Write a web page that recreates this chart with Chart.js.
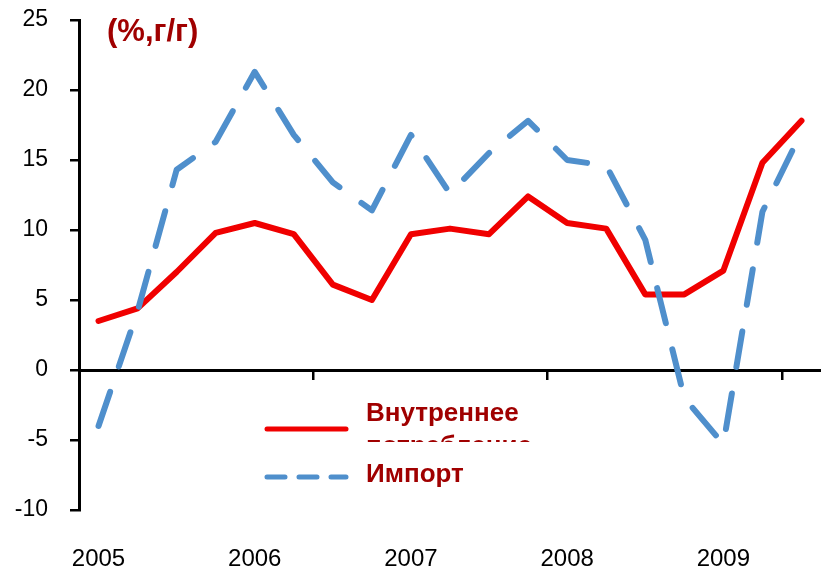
<!DOCTYPE html>
<html>
<head>
<meta charset="utf-8">
<script src="https://cdn.jsdelivr.net/npm/chart.js@4.4.1/dist/chart.umd.min.js"></script>
<style>
  html, body { margin: 0; padding: 0; background: #fff; overflow: hidden; }
  #wrap { position: relative; width: 821px; height: 571px; }
  #chart { position: absolute; left: 0; top: 0; }
  .unit {
    position: absolute; left: 107px; top: 13px;
    font: bold 31px "Liberation Sans", Arial, sans-serif; color: #a00000;
  }
  .lg-line { position: absolute; left: 262px; line-height: 0; }
  .lg-line svg { display: block; }
  .lg-text {
    position: absolute; left: 366px; width: 200px; overflow: hidden;
    font: bold 26px "Liberation Sans", Arial, sans-serif; color: #a00000;
  }
</style>
</head>
<body>
<div id="wrap">
  <canvas id="chart" width="821" height="571"></canvas>
  <div class="unit">(%,г/г)</div>
  <div id="legend"></div>
</div>
<script>
const quarters = [
  "2005 Q1", "2005 Q2", "2005 Q3", "2005 Q4",
  "2006 Q1", "2006 Q2", "2006 Q3", "2006 Q4",
  "2007 Q1", "2007 Q2", "2007 Q3", "2007 Q4",
  "2008 Q1", "2008 Q2", "2008 Q3", "2008 Q4",
  "2009 Q1", "2009 Q2", "2009 Q3"
];
const yearTicks = ["2005", "2006", "2007", "2008", "2009"];
const seriesNames = ["Внутреннее потребление", "Импорт"];
const consumption = [3.5, 4.4, 7.0, 9.8, 10.5, 9.7, 6.1, 5.0, 9.7, 10.1, 9.7, 12.4, 10.5, 10.1, 5.4, 5.4, 7.1, 14.8, 17.8];
const imports = [-4.0, 4.2, 14.3, 16.3, 21.3, 16.8, 13.4, 11.4, 16.8, 12.6, 15.5, 17.8, 15.0, 14.6, 9.3, -2.0, -5.3, 11.3, 17.0];

const RED = "#f00000";
const BLUE = "#4f8fcc";
const FONT = "'Liberation Sans', Arial, sans-serif";

const noSidePadding = (scale) => {
  scale.paddingLeft = 0;
  scale.paddingRight = 0;
};

const chart = new Chart(document.getElementById("chart"), {
  type: "line",
  data: {
    labels: quarters,
    datasets: [
      {
        label: seriesNames[0],
        data: consumption,
        borderColor: RED,
        borderWidth: 6,
        borderJoinStyle: "round",
        borderCapStyle: "round",
        pointRadius: 0,
        tension: 0,
        order: 2,
      },
      {
        label: seriesNames[1],
        data: imports,
        borderColor: BLUE,
        borderWidth: 6,
        borderDash: [36, 27],
        borderJoinStyle: "round",
        borderCapStyle: "round",
        pointRadius: 0,
        tension: 0,
        order: 1,
      },
    ],
  },
  options: {
    responsive: false,
    animation: false,
    devicePixelRatio: 1,
    layout: { padding: { top: 20, left: 0, right: 0, bottom: 0 } },
    plugins: {
      legend: { display: false },
      tooltip: { enabled: false },
    },
    scales: {
      x: {
        type: "category",
        position: { y: 0 },
        offset: true,
        grid: {
          offset: true,
          drawOnChartArea: false,
          drawTicks: true,
          tickLength: 8,
          lineWidth: 2.5,
          color: (ctx) => (ctx.index % 6 === 0 ? "#000" : "rgba(0,0,0,0)"),
        },
        border: { display: true, color: "#000", width: 3 },
        ticks: { display: false, autoSkip: false },
        afterFit: noSidePadding,
      },
      x2: {
        type: "category",
        position: "bottom",
        offset: true,
        grid: { display: false },
        border: { display: false },
        ticks: {
          autoSkip: false,
          maxRotation: 0,
          padding: 27,
          color: "#000",
          font: { family: FONT, size: 24 },
          callback: (value, index) => (index % 4 === 0 ? yearTicks[index / 4] : ""),
        },
        afterFit: (scale) => {
          scale.height = 61;
          noSidePadding(scale);
        },
      },
      y: {
        min: -10,
        max: 25,
        grid: {
          drawOnChartArea: false,
          drawTicks: true,
          tickLength: 9,
          lineWidth: 2.5,
          color: "#000",
        },
        border: { display: true, color: "#000", width: 3 },
        ticks: {
          stepSize: 5,
          padding: 22,
          color: "#000",
          font: { family: FONT, size: 23 },
        },
        afterFit: (scale) => {
          scale.width = 79;
          scale.paddingTop = 0;
          scale.paddingBottom = 0;
        },
      },
    },
  },
});

// legend drawn as html next to the plot, like the original picture
const legend = document.getElementById("legend");
const rows = [
  { y: 429, textTop: 396, lineHeight: 33, height: 46 },
  { y: 477, textTop: 459, lineHeight: 29, height: 30 },
];
chart.data.datasets.forEach((ds, i) => {
  const r = rows[i];
  const dash = ds.borderDash ? 'stroke-dasharray="18 14"' : "";
  const line = document.createElement("div");
  line.className = "lg-line";
  line.style.top = r.y - 5 + "px";
  line.innerHTML =
    `<svg width="90" height="10"><line x1="5" y1="5" x2="84" y2="5" stroke="${ds.borderColor}" ` +
    `stroke-width="5" stroke-linecap="round" ${dash}/></svg>`;
  legend.appendChild(line);

  const text = document.createElement("div");
  text.className = "lg-text";
  text.style.top = r.textTop + "px";
  text.style.height = r.height + "px";
  text.style.lineHeight = r.lineHeight + "px";
  text.textContent = ds.label;
  legend.appendChild(text);
});
</script>
</body>
</html>
